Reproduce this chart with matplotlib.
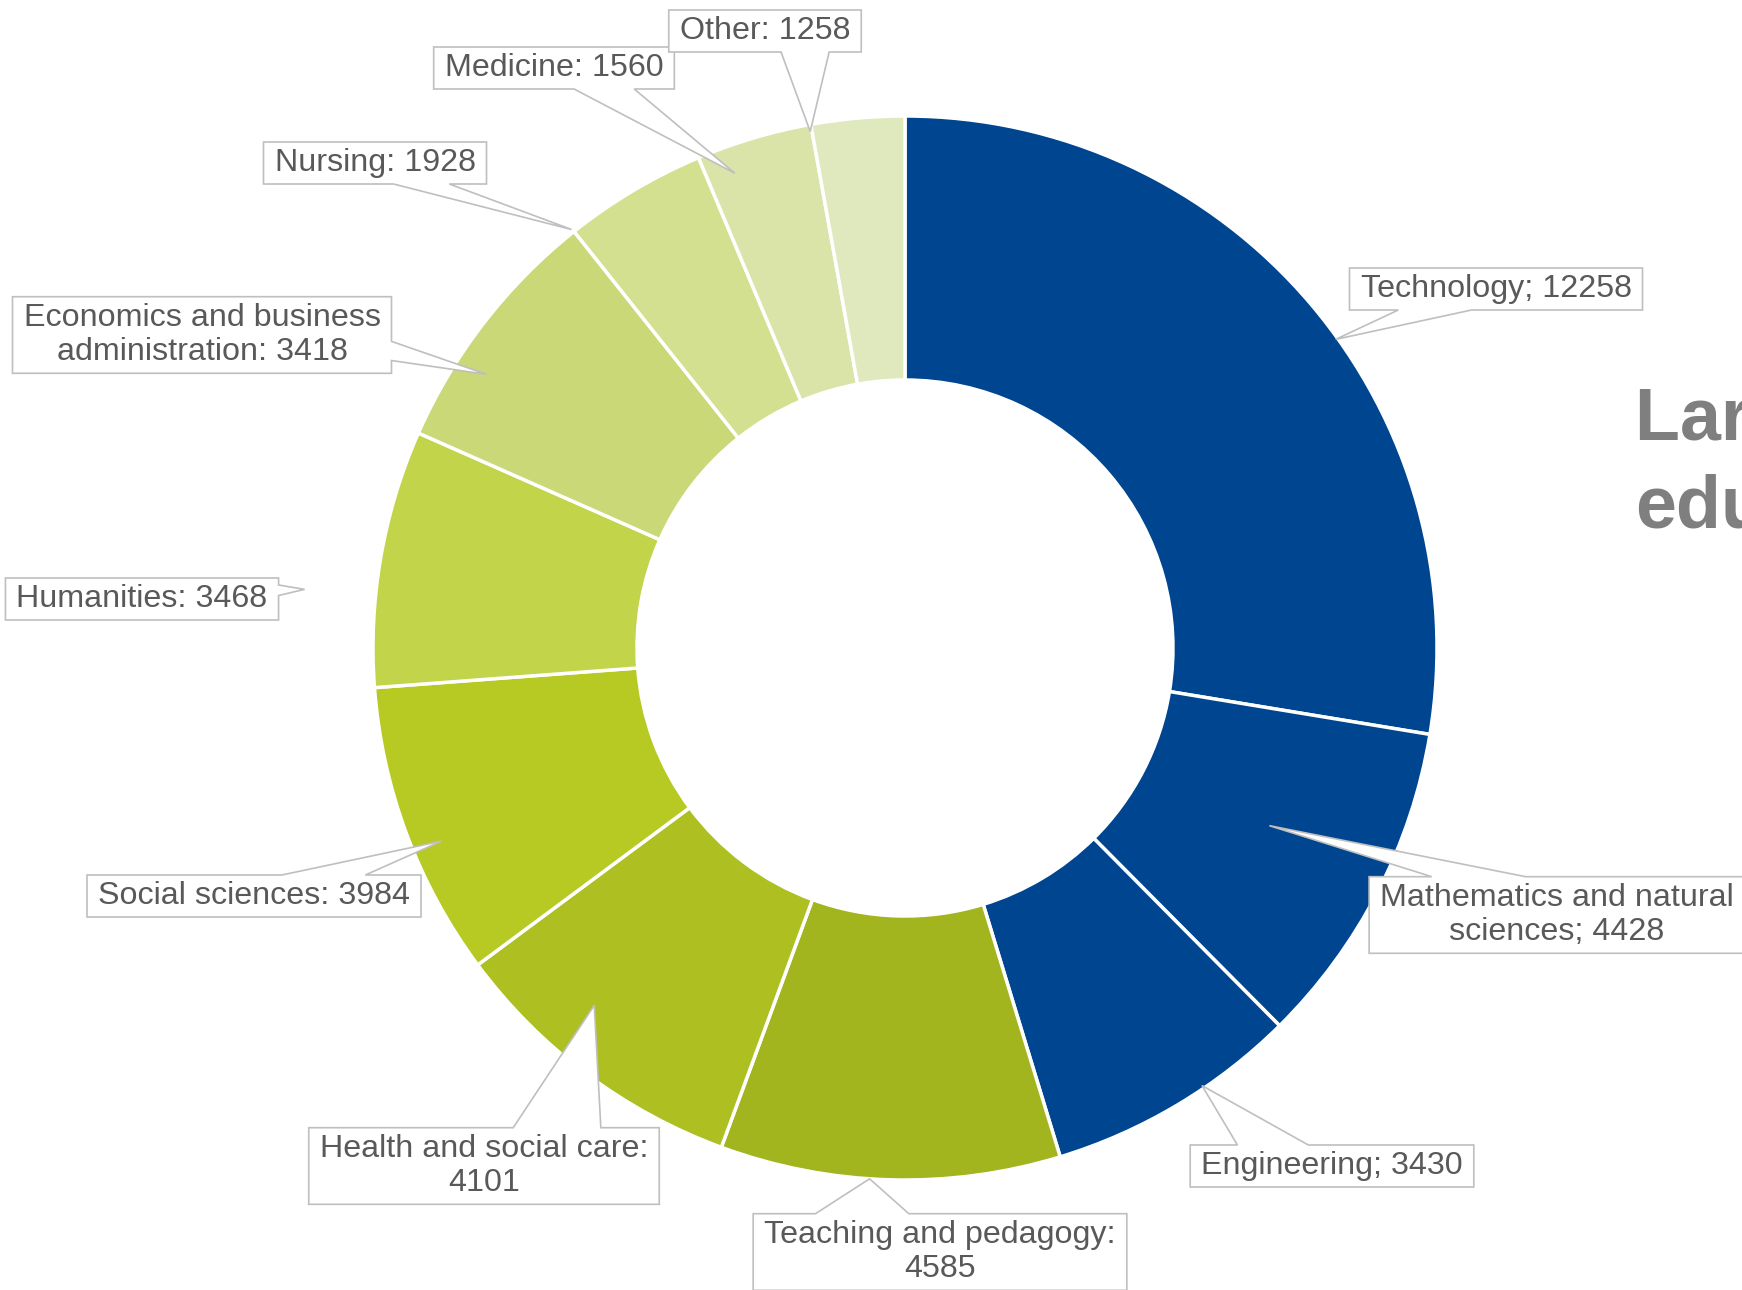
import numpy as np
import matplotlib
matplotlib.use("Agg")
import matplotlib.pyplot as plt
from matplotlib.patches import Polygon

# data
fields = ["Technology", "Mathematics and natural\nsciences", "Engineering",
          "Teaching and pedagogy:\n", "Health and social care:\n", "Social sciences",
          "Humanities", "Economics and business\nadministration", "Nursing",
          "Medicine", "Other"]
seps = ["; ", "; ", "; ", "", "", ": ", ": ", ": ", ": ", ": ", ": "]
counts = [12258, 4428, 3430, 4585, 4101, 3984, 3468, 3418, 1928, 1560, 1258]
colors = ["#004590", "#004590", "#004590", "#a3b51e", "#adbf21", "#b7c923",
          "#c1d44a", "#cad878", "#d3e090", "#dae4a8", "#e0e8bd"]
title_lines = ["Largest fields of", "education"]

# layout (pixel coords, y measured from top)
W, H = 1742, 1290
cx, cy = 905, 648
r_out, r_in = 532, 268
# label box centres
box_pos = [(1496, 289), (1557, 915), (1332, 1166), (940, 1252), (484, 1166),
           (254, 896), (142, 599), (202, 335), (375, 163), (554, 68), (765, 31)]
# where the callout tail points: fraction of outer radius, angle nudge (deg)
tail_r = [0.996, 0.762, 0.994, 1.0, 0.89, 0.944, 1.134, 0.94, 1.006, 0.948, 0.987]
tail_da = [-4.7, 1.3, 3.3, -2.2, -4.2, 2.2, 4.2, 4.5, 7.9, 3.2, 5.3]

txt_color = "#595959"
edge_color = "#bfbfbf"
plt.rcParams["font.family"] = ["Liberation Sans", "DejaVu Sans"]


def callout(bx, by, w, h, px, py):
    # rectangle callout like office "wedgeRectCallout" (y down)
    l, r, t, b = bx - w / 2, bx + w / 2, by - h / 2, by + h / 2
    dx, dy = px - bx, py - by
    dq = dx * h / w
    if abs(dy) > abs(dq):
        if dx > 0:
            x1, x2 = l + w * 7 / 12, l + w * 10 / 12
        else:
            x1, x2 = l + w * 2 / 12, l + w * 5 / 12
        if dy > 0:
            pts = [(l, t), (r, t), (r, b), (x2, b), (px, py), (x1, b), (l, b)]
        else:
            pts = [(l, t), (x1, t), (px, py), (x2, t), (r, t), (r, b), (l, b)]
    else:
        if dy > 0:
            y1, y2 = t + h * 7 / 12, t + h * 10 / 12
        else:
            y1, y2 = t + h * 2 / 12, t + h * 5 / 12
        if dx > 0:
            pts = [(l, t), (r, t), (r, y1), (px, py), (r, y2), (r, b), (l, b)]
        else:
            pts = [(l, t), (r, t), (r, b), (l, b), (l, y2), (px, py), (l, y1)]
    return [(x, H - y) for x, y in pts]


fig = plt.figure(figsize=(W / 100, H / 100), dpi=100)
ax = fig.add_axes([0, 0, 1, 1])
ax.set_xlim(0, W)
ax.set_ylim(0, H)
ax.axis("off")

wedges, _ = ax.pie(counts, colors=colors, startangle=90, counterclock=False,
                   center=(cx, H - cy), radius=r_out,
                   wedgeprops=dict(width=r_out - r_in, edgecolor="white", linewidth=2.5))
ax.set_xlim(0, W)
ax.set_ylim(0, H)
ax.set_aspect("equal")

renderer = fig.canvas.get_renderer()
for i, w in enumerate(wedges):
    mid = np.deg2rad((w.theta1 + w.theta2) / 2 + tail_da[i])
    px = cx + tail_r[i] * r_out * np.cos(mid)
    py = cy - tail_r[i] * r_out * np.sin(mid)
    label = fields[i] + seps[i] + str(counts[i])
    bx, by = box_pos[i]
    t = ax.text(bx, H - by, label, ha="center", va="center", multialignment="center",
                fontsize=23.2, color=txt_color, linespacing=1.2, zorder=5)
    ext = t.get_window_extent(renderer)
    bw = ext.width + 22
    bh = ext.height + 12
    poly = Polygon(callout(bx, by, bw, bh, px, py), closed=True, facecolor="white",
                   edgecolor=edge_color, linewidth=1.2, zorder=4)
    ax.add_patch(poly)

# title runs off the right edge, as in the source slide
ax.text(1635, H - 440, title_lines[0], ha="left", va="baseline", fontsize=53,
        fontweight="bold", color="#7f7f7f")
ax.text(1635, H - 527, title_lines[1], ha="left", va="baseline", fontsize=53,
        fontweight="bold", color="#7f7f7f")

fig.savefig("out.png", dpi=100)
